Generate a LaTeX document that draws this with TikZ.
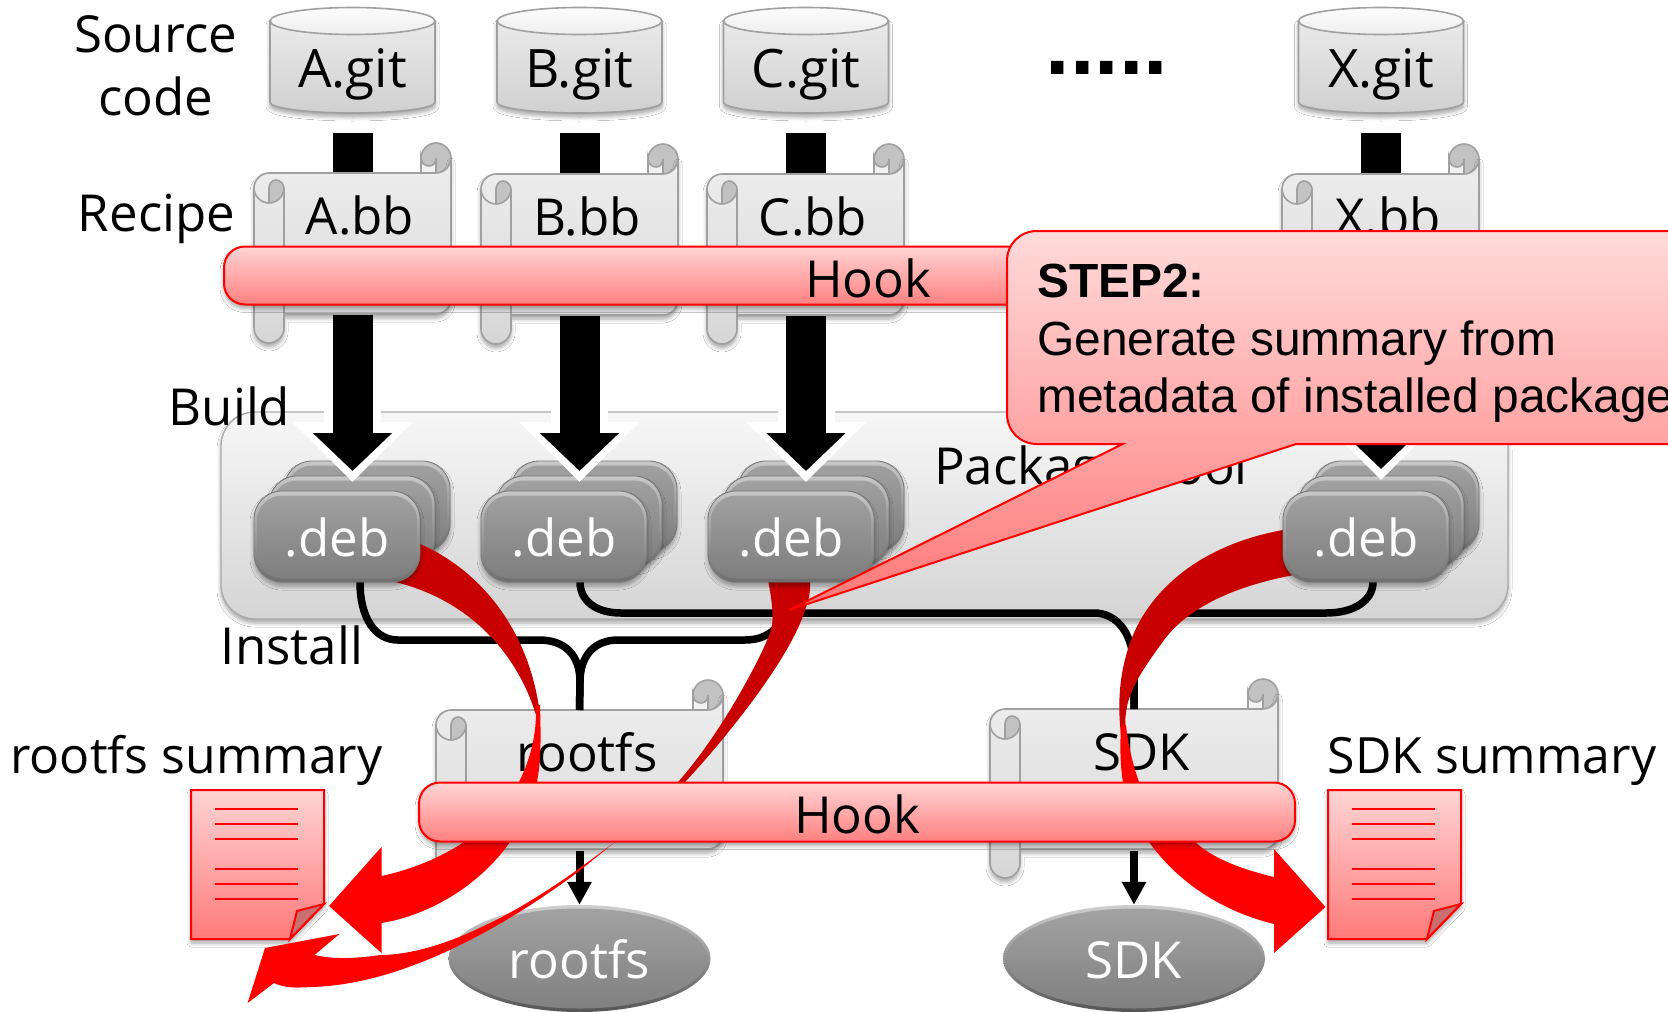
\documentclass[tikz,border=0pt]{standalone}
\usepackage{fontspec}
\setmainfont{Open Sans}
\newfontfamily\arialfont{Liberation Sans}
\usetikzlibrary{arrows.meta,shapes.geometric,shadows.blur}
\definecolor{rimgray}{HTML}{A0A0A0}
\definecolor{rollgray}{HTML}{C2C2C2}
\definecolor{darkred}{HTML}{C80000}
\definecolor{hooktop}{HTML}{FFD4D4}
\definecolor{hookbot}{HTML}{FF8080}
\tikzset{
  softshadow/.style={blur shadow={shadow xshift=0pt,shadow yshift=-4pt,shadow blur radius=4pt,shadow blur steps=6,shadow opacity=35}},
  lbl/.style={anchor=base,inner sep=0pt,font=\fontsize{51}{60}\selectfont},
  sumlbl/.style={lbl,font=\fontsize{50}{60}\selectfont},
  gitlbl/.style={lbl,font=\fontsize{53}{60}\selectfont},
  whitelbl/.style={lbl,text=white},
  calltext/.style={anchor=base west,inner sep=0pt,font=\arialfont\fontsize{47.9}{57}\selectfont},
  cyl/.style={draw=rimgray,line width=1.6pt,top color=EAEAEAc,bottom color=D0D0D0c,softshadow},
  cyltop/.style={draw=rimgray,line width=1.6pt,top color=FCFCFCc,bottom color=EEEEEEc},
  scrollshape/.style={draw=rimgray,line width=1.6pt,top color=EEEEEEc,bottom color=D6D6D6c,softshadow},
  scrollline/.style={draw=rimgray,line width=1.6pt},
  pool/.style={draw=rimgray!90,line width=1.4pt,top color=F7F7F7c,bottom color=D4D4D4c,rounded corners=34pt,softshadow},
  debouter/.style={rounded corners=28pt,top color=C8C8C8c,bottom color=6E6E6Ec,draw=777777c,line width=.8pt,softshadow},
  debinner/.style={rounded corners=25pt,top color=A0A0A0c,bottom color=7E7E7Ec},
  oval/.style={ellipse,inner sep=0pt,top color=CFCFCFc,bottom color=555555c},
  ovalin/.style={ellipse,inner sep=0pt,top color=A2A2A2c,bottom color=808080c},
  hook/.style={draw=red,line width=2pt,top color=hooktop,bottom color=hookbot,rounded corners=21pt,inner sep=0pt,
    text height=43pt,text depth=0pt,font=\fontsize{51}{60}\selectfont,softshadow},
  doc/.style={draw=red,line width=2pt,top color=hooktop,bottom color=FF7A7Ac,softshadow},
  docfold/.style={draw=red,line width=2pt,fill=C87070c},
  docline/.style={draw=red,line width=1.7pt},
  bigwhite/.style={draw=white,line width=57pt,-{Triangle[length=60pt,width=117pt]},white,shorten <=25.5pt,shorten >=-11pt},
  bigblack/.style={draw=black,line width=40pt,-{Triangle[length=38pt,width=77pt]},black,shorten <=33.5pt},
  smallarrow/.style={draw=black,line width=8pt,-{Triangle[length=23pt,width=23pt]},black,shorten <=2pt},
  instline/.style={draw=black,line width=7.5pt},
  darkarrow/.style={fill=darkred},
  brightarrow/.style={fill=red},
  calloutbox/.style={draw=red,line width=2pt,top color=FFDADAc,bottom color=FF7878c},
}
\definecolor{EAEAEAc}{HTML}{EAEAEA}\definecolor{D0D0D0c}{HTML}{D0D0D0}
\definecolor{FCFCFCc}{HTML}{FCFCFC}\definecolor{EEEEEEc}{HTML}{EEEEEE}
\definecolor{D6D6D6c}{HTML}{D6D6D6}\definecolor{F7F7F7c}{HTML}{F7F7F7}
\definecolor{D4D4D4c}{HTML}{D4D4D4}\definecolor{CFCFCFc}{HTML}{CFCFCF}
\definecolor{C8C8C8c}{HTML}{C8C8C8}\definecolor{6E6E6Ec}{HTML}{6E6E6E}
\definecolor{777777c}{HTML}{777777}
\definecolor{A0A0A0c}{HTML}{A0A0A0}\definecolor{7E7E7Ec}{HTML}{7E7E7E}
\definecolor{555555c}{HTML}{555555}\definecolor{A2A2A2c}{HTML}{A2A2A2}
\definecolor{808080c}{HTML}{808080}\definecolor{FF7A7Ac}{HTML}{FF7A7A}
\definecolor{C87070c}{HTML}{C87070}\definecolor{FFDADAc}{HTML}{FFDADA}
\definecolor{FF7878c}{HTML}{FF7878}
% cylinder: name, centre x, text
\newcommand\gitcyl[3]{%
  \begin{scope}[shift={(#2,0)}]
    \path[cyl] (-82.5,21) -- (-82.5,102) .. controls (-82.5,109) and (-40,113) .. (0,113)
      .. controls (40,113) and (82.5,109) .. (82.5,102) -- (82.5,21) -- cycle;
    \path[cyltop] (0,21) ellipse [x radius=82.5,y radius=13.5];
    \node[gitlbl] (#1) at (0,87) {#3};
  \end{scope}}
% scroll: name, left, top, width, height, text
\newcommand\scrollbox[6]{%
  \begin{scope}[shift={(#2,#3)}]
    \def\sw{#4}\def\sh{#5}
    \path[scrollline,fill=rollgray] ({\sw-30},-15) .. controls ({\sw-30},-23) and ({\sw-23},-30) .. ({\sw-15},-30)
      .. controls ({\sw-7},-30) and (\sw,-23) .. (\sw,-15) -- (\sw,0) -- ({\sw-30},0) -- cycle;
    \path[scrollline,fill=white!95!black] ({\sw-30},-15) .. controls ({\sw-30},-10) and ({\sw-26},-7) .. ({\sw-22},-7)
      .. controls ({\sw-18},-7) and ({\sw-15},-10) .. ({\sw-15},-15) -- ({\sw-15},0) -- ({\sw-30},0) -- cycle;
    \path[scrollshape] (0,15) .. controls (0,7) and (7,0) .. (15,0) -- ({\sw-15},0)
      .. controls ({\sw-7},0) and (\sw,-7) .. (\sw,-15) -- (\sw,{\sh-15})
      .. controls (\sw,{\sh-7}) and ({\sw-7},\sh) .. ({\sw-15},\sh) -- (30,\sh) -- (30,{\sh+14})
      .. controls (30,{\sh+22}) and (23,{\sh+29}) .. (15,{\sh+29})
      .. controls (7,{\sh+29}) and (0,{\sh+22}) .. (0,{\sh+14}) -- cycle;
    \path[scrollline] (30,15) -- (30,\sh);
    \path[scrollline] (0,15) .. controls (0,23) and (7,30) .. (15,30);
    \path[scrollline,fill=rollgray] (15,30) -- (15,15) .. controls (15,11) and (18,7) .. (22,7)
      .. controls (26,7) and (30,11) .. (30,15) .. controls (30,23) and (23,30) .. (15,30) -- cycle;
    \node[lbl] (#1) at ({\sw/2+7.5},61) {#6};
    \coordinate (#1top) at ({\sw/2},0);
    \coordinate (#1bot) at ({\sw/2},\sh);
  \end{scope}}
% deb plate: centre x, centre y
\newcommand\debplate[2]{%
  \begin{scope}[shift={(#1,#2)}]
    \path[debouter] (-83,-45.5) rectangle (83,45.5);
    \path[debinner] (-80,-41) rectangle (80,42);
  \end{scope}}
% document: left, top
\newcommand\summarydoc[2]{%
  \begin{scope}[shift={(#1,#2)}]
    \path[doc] (0,0) -- (133,0) -- (133,114) -- (99,149) -- (0,149) -- cycle;
    \path[docfold] (133,114) -- (106,121) -- (99,149) -- cycle;
    \foreach \ly in {19,34,49,79,94,109} {\path[docline] (24,\ly) -- (107,\ly);}
  \end{scope}}
\begin{document}
\begin{tikzpicture}[x=1pt,y=-1pt]
\useasboundingbox (0,0) rectangle (1668,1012);
\clip (0,0) rectangle (1668,1012);
\fill[white] (0,0) rectangle (1668,1012);

% package pool
\path[pool] (221,412) rectangle (1508,619);
\node[lbl] (poolLabel) at (1091,484) {Package Pool};

% back plates of the .deb stacks
\foreach \dx in {337,564,791,1366} {
  \debplate{\dx+30}{506.5}
  \debplate{\dx+15}{521.5}
}

% cylinders
\gitcyl{gitA}{352.5}{A.git}
\gitcyl{gitB}{579.5}{B.git}
\gitcyl{gitC}{806}{C.git}
\gitcyl{gitX}{1381}{X.git}

% build arrows
\coordinate (tipA) at (352.5,471);
\coordinate (tipB) at (579.5,471);
\coordinate (tipC) at (806,471);
\coordinate (tipX) at (1381,469);
\foreach \n in {A,B,C,X} {
  \draw[bigwhite] (git\n.south) -- (tip\n);
  \draw[bigblack] (git\n.south) -- (tip\n);
}

% scrolls
\scrollbox{bbA}{254}{173}{197}{141}{A.bb}
\scrollbox{bbB}{481}{174}{197}{141}{B.bb}
\scrollbox{bbC}{707}{174}{197}{141}{C.bb}
\scrollbox{bbX}{1282}{174}{197}{141}{X.bb}
\scrollbox{scrollR}{436}{710}{287}{139}{rootfs}
\scrollbox{scrollS}{990}{709}{288}{140}{SDK}

% install lines
\coordinate (portA) at (360,582);
\coordinate (portB) at (580,582);
\coordinate (portC) at (790,582);
\coordinate (portX) at (1373,582);
\draw[instline] (portA) .. controls (360,618) and (375,640) .. (398,640) -- (539,640)
  .. controls (565,640) and (580,655) .. (580,682) -- (scrollRtop);
\draw[instline] (portC) .. controls (790,618) and (775,640) .. (745,640) -- (618,640)
  .. controls (595,640) and (580,655) .. (580,682) -- (scrollRtop);
\draw[instline] (portB) .. controls (580,600) and (595,613) .. (621,613) -- (1094,613)
  .. controls (1118,613) and (1134,635) .. (1134,670) -- (scrollStop);
\draw[instline] (portX) .. controls (1373,600) and (1355,613) .. (1326,613) -- (1176,613)
  .. controls (1152,613) and (1134,635) .. (1134,670) -- (scrollStop);

% ovals
\node[oval,minimum width=262pt,minimum height=107pt] (ovalRim1) at (579.5,958.5) {};
\node[ovalin,minimum width=255pt,minimum height=100pt] (ovalR) at (579.5,958.5) {};
\node[whitelbl] (ovalRlabel) at (579.5,978) {rootfs};
\node[oval,minimum width=262pt,minimum height=107pt] (ovalRim2) at (1134,958.5) {};
\node[ovalin,minimum width=255pt,minimum height=100pt] (ovalS) at (1134,958.5) {};
\node[whitelbl] (ovalSlabel) at (1134,978) {SDK};
\draw[smallarrow] (scrollRbot) -- (ovalRim1.north);
\draw[smallarrow] (scrollSbot) -- (ovalRim2.north);

% summary documents
\summarydoc{191}{790}
\summarydoc{1328}{790}

% red curved arrows, dark upper parts
\path[darkarrow] (400,535) -- (420,544) .. controls (480,570) and (530,630) .. (540,715) -- (538,722)
  .. controls (520,655) and (470,600) .. (395,582) -- cycle;
\path[darkarrow] (767,575) .. controls (772,600) and (775,620) .. (770,633)
  .. controls (760,660) and (720,735) .. (678,782) -- (685,782)
  .. controls (720,745) and (790,660) .. (805,610) .. controls (809,600) and (811,590) .. (810,575) -- cycle;
\path[darkarrow] (1290,530) -- (1283,530) .. controls (1200,545) and (1150,590) .. (1131,640)
  .. controls (1120,670) and (1117,700) .. (1121,735) -- (1126,735)
  .. controls (1122,700) and (1135,680) .. (1164,640) .. controls (1190,605) and (1240,585) .. (1294,575) -- cycle;

% red curved arrows, bright lower parts
\path[brightarrow] (540,705) .. controls (541,740) and (541,760) .. (537,782)
  .. controls (531,810) and (522,828) .. (510,842) .. controls (480,885) and (430,915) .. (381.5,923)
  -- (381.5,953) -- (329,906) -- (381.5,847) -- (381.5,876)
  .. controls (410,870) and (440,858) .. (464,842) .. controls (490,825) and (508,805) .. (519,782)
  .. controls (530,760) and (537,735) .. (536,705) -- cycle;
\path[brightarrow] (615,842) -- (577,870) .. controls (500,925) and (430,955) .. (380,955)
  .. controls (360,958) and (335,960) .. (314.5,955) -- (339.4,934) -- (265,948) -- (247.6,1003) -- (274,983)
  .. controls (285,988) and (295,988) .. (311,987) .. controls (400,985) and (500,930) .. (578,872) -- cycle;
\path[brightarrow] (1121,725) .. controls (1120,745) and (1120,765) .. (1123,782)
  .. controls (1128,805) and (1138,825) .. (1149,842) .. controls (1180,885) and (1225,912) .. (1274,924)
  -- (1274,953) -- (1325.5,907) -- (1274,849) -- (1274,877)
  .. controls (1245,870) and (1215,860) .. (1195,842) .. controls (1170,825) and (1148,805) .. (1139,782)
  .. controls (1133,765) and (1128,745) .. (1126,725) -- cycle;

% front plates
\foreach \dx/\nm in {337/A,564/B,791/C,1366/X} {
  \debplate{\dx}{536.5}
  \node[whitelbl] (deb\nm) at (\dx,556.5) {.deb};
}

% hook bars
\node[hook,minimum width=1288pt,minimum height=58pt] (hookTop) at (868,275.5) {Hook};
\node[hook,minimum width=876pt,minimum height=59pt] (hookBottom) at (857,812) {Hook};

% callout
\path[calloutbox] (1007,261) .. controls (1007,244) and (1020,231) .. (1037,231) -- (1710,231) -- (1710,444)
  -- (1296,444) -- (789,610) -- (1122.6,444) -- (1037,444) .. controls (1020,444) and (1007,431) .. (1007,414) -- cycle;
\node[calltext] (stepTitle) at (1037,297) {\bfseries STEP2:};
\node[calltext] (stepLineA) at (1037,355) {Generate summary from};
\node[calltext] (stepLineB) at (1037,412) {metadata of installed package};

% row labels
\node[lbl] (srcA) at (155.5,52) {Source};
\node[lbl] (srcB) at (155.5,115) {code};
\node[lbl] (recipe) at (156.5,231) {Recipe};
\node[lbl] (build) at (229.5,425) {Build};
\node[lbl] (install) at (292,664) {Install};
\node[sumlbl] (rootfsSum) at (196.5,773) {rootfs summary};
\node[sumlbl] (sdkSum) at (1492,773) {SDK summary};
\node[anchor=base,inner sep=0pt,font=\arialfont\bfseries\fontsize{88}{90}\selectfont] (dots) at (1107,74) {.....};
\end{tikzpicture}
\end{document}
